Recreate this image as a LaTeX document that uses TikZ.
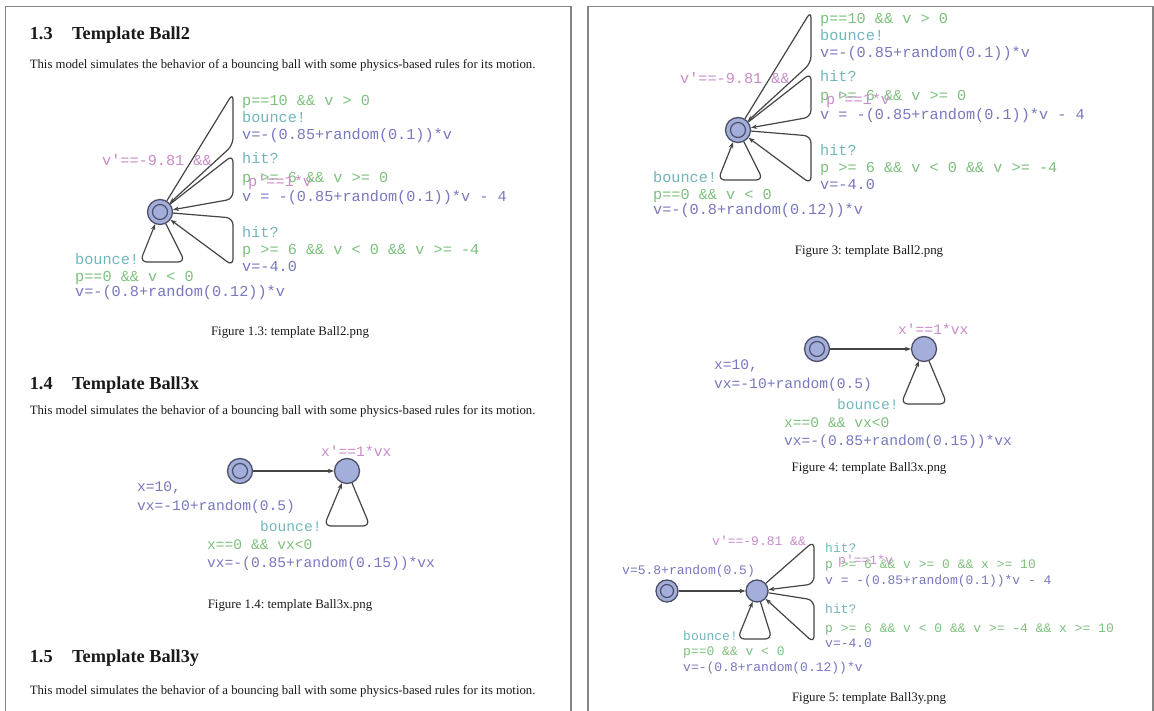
\documentclass[tikz,border=0pt]{standalone}
\usepackage{fontspec}
\setmainfont{Liberation Serif}
\setmonofont{Liberation Mono}
\usetikzlibrary{arrows.meta}
\frenchspacing
\definecolor{framec}{HTML}{858585}
\definecolor{grdc}{HTML}{7DC07D}
\definecolor{syncc}{HTML}{72B6BC}
\definecolor{updc}{HTML}{7878C0}
\definecolor{invc}{HTML}{C98CC9}
\definecolor{locfill}{HTML}{A4AEDA}
\definecolor{locdraw}{HTML}{4C5068}
\definecolor{edgec}{HTML}{454545}
\definecolor{textc}{HTML}{1A1A1A}
\tikzset{
  pageframe/.style={draw=framec, line width=1.6pt},
  heading/.style={font=\fontsize{18.3}{20}\selectfont\bfseries, anchor=base west, inner sep=0, text=textc},
  bodytext/.style={font=\fontsize{12.75}{15}\selectfont, anchor=base west, inner sep=0, text=textc},
  captiontext/.style={font=\fontsize{12.9}{15}\selectfont, anchor=base, inner sep=0, text=textc},
  monoA/.style={font=\fontsize{14.6}{16}\ttfamily, anchor=base west, inner sep=0},
  monoC/.style={font=\fontsize{15.2}{17}\ttfamily, anchor=base west, inner sep=0},
  monoB/.style={font=\fontsize{13}{15}\ttfamily, anchor=base west, inner sep=0},
  grd/.style={text=grdc}, snc/.style={text=syncc}, upd/.style={text=updc}, inv/.style={text=invc},
  loc/.style={circle, draw=locdraw, fill=locfill, line width=1.3pt, inner sep=0, minimum size=25pt},
  initring/.style={draw=locdraw, line width=1.2pt},
  edg/.style={draw=edgec, line width=1.2pt, rounded corners=7pt, -{Stealth[length=6pt,width=4.5pt]}},
  balltwo/.pic={
    \node[loc] (-n) at (0,0) {};
    \draw[initring] (-n.center) circle[radius=7.5pt];
    \draw[edg] (-n) -- (73,-119) -- (73,-67) -- (-n);
    \draw[edg] (-n) -- (73,-57) -- (73,-13) -- (-n);
    \draw[edg] (-n) -- (73,6) -- (73,54) -- (-n);
    \draw[edg] (-n) -- (25,50) -- (-20,50) -- (-n);
    \node[monoC,grd] (-g1) at (82,-106.5) {p==10 \&\& v > 0};
    \node[monoC,snc] (-s1) at (82,-89) {bounce!};
    \node[monoC,upd] (-u1) at (82,-72) {v=-(0.85+random(0.1))*v};
    \node[monoC,snc] (-s2) at (82,-48) {hit?};
    \node[monoC,grd] (-g2) at (82,-29) {p >= 6 \&\& v >= 0};
    \node[monoC,inv] (-i2) at (88,-25.5) {p'==1*v};
    \node[monoC,upd] (-u2) at (82,-10.5) {v = -(0.85+random(0.1))*v - 4};
    \node[monoC,snc] (-s3) at (82,25.5) {hit?};
    \node[monoC,grd] (-g3) at (82,43) {p >= 6 \&\& v < 0 \&\& v >= -4};
    \node[monoC,upd] (-u3) at (82,59.8) {v=-4.0};
    \node[monoC,snc] (-s4) at (-85,52.5) {bounce!};
    \node[monoC,grd] (-g4) at (-85,69.5) {p==0 \&\& v < 0};
    \node[monoC,upd] (-u4) at (-85,85) {v=-(0.8+random(0.12))*v};
    \node[monoC,inv] (-i1) at (-58,-46) {v'==-9.81 \&\&};
  },
  ballthreex/.pic={
    \node[loc] (-i) at (0,0) {};
    \draw[initring] (-i.center) circle[radius=7.5pt];
    \node[loc] (-m) at (107,0) {};
    \draw[edg] (-i) -- (-m);
    \draw[edg] (-m) -- (130,55) -- (84,55) -- (-m);
    \node[monoA,inv] (-l1) at (81,-14.5) {x'==1*vx};
    \node[monoA,upd] (-l2) at (-103,20.5) {x=10,};
    \node[monoA,upd] (-l3) at (-103,39.5) {vx=-10+random(0.5)};
    \node[monoA,snc] (-l4) at (20,60.5) {bounce!};
    \node[monoA,grd] (-l5) at (-33,78.5) {x==0 \&\& vx<0};
    \node[monoA,upd] (-l6) at (-33,96.5) {vx=-(0.85+random(0.15))*vx};
  }
}
\begin{document}
\begin{tikzpicture}[x=1pt,y=-1pt]
\useasboundingbox (0,0) rectangle (1154,711);
\fill[white] (0,0) rectangle (1154,711);
% page frames
\draw[pageframe] (5.5,712) -- (5.5,6.5) -- (571,6.5) -- (571,712);
\draw[pageframe] (588,712) -- (588,6.5) -- (1153,6.5) -- (1153,712);

% ---------- left page ----------
\node[heading] (h13n) at (29.6,39.5) {1.3};
\node[heading] (h13t) at (72,39.5) {Template Ball2};
\node[bodytext] (b13) at (29.6,69) {This model simulates the behavior of a bouncing ball with some physics-based rules for its motion.};
\pic (LB2) at (160,212) {balltwo};
\node[captiontext] (c13) at (290,336) {Figure 1.3: template Ball2.png};

\node[heading] (h14n) at (29.6,389.5) {1.4};
\node[heading] (h14t) at (72,389.5) {Template Ball3x};
\node[bodytext] (b14) at (29.6,414) {This model simulates the behavior of a bouncing ball with some physics-based rules for its motion.};
\pic (LB3) at (240,471) {ballthreex};
\node[captiontext] (c14) at (290,608) {Figure 1.4: template Ball3x.png};

\node[heading] (h15n) at (29.6,662.5) {1.5};
\node[heading] (h15t) at (72,662.5) {Template Ball3y};
\node[bodytext] (b15) at (29.6,694) {This model simulates the behavior of a bouncing ball with some physics-based rules for its motion.};

% ---------- right page ----------
\pic (RB2) at (738,130) {balltwo};
\node[captiontext] (c3) at (869,255) {Figure 3: template Ball2.png};

\pic (RB3) at (817,349) {ballthreex};
\node[captiontext] (c4) at (869,471) {Figure 4: template Ball3x.png};

% Ball3y
\node[loc, minimum size=22pt] (yi) at (667,591) {};
\draw[initring] (yi.center) circle[radius=6.5pt];
\node[loc, minimum size=22pt] (ym) at (757,591) {};
\draw[edg] (yi) -- (ym);
\draw[edg] (ym) -- (814,541) -- (814,584) -- (ym);
\draw[edg] (ym) -- (814,600) -- (814,643) -- (ym);
\draw[edg] (ym) -- (772,639) -- (737.5,639) -- (ym);
\node[monoB,upd] (y1) at (622,574) {v=5.8+random(0.5)};
\node[monoB,inv] (y2) at (712,545) {v'==-9.81 \&\&};
\node[monoB,snc] (y3) at (825,552) {hit?};
\node[monoB,grd] (y4) at (825,568) {p >= 6 \&\& v >= 0 \&\& x >= 10};
\node[monoB,inv] (y5) at (838,564) {p'==1*v};
\node[monoB,upd] (y6) at (825,584) {v = -(0.85+random(0.1))*v - 4};
\node[monoB,snc] (y7) at (825,613) {hit?};
\node[monoB,grd] (y8) at (825,632) {p >= 6 \&\& v < 0 \&\& v >= -4 \&\& x >= 10};
\node[monoB,upd] (y9) at (825,647) {v=-4.0};
\node[monoB,snc] (y10) at (683,640) {bounce!};
\node[monoB,grd] (y11) at (683,655) {p==0 \&\& v < 0};
\node[monoB,upd] (y12) at (683,671) {v=-(0.8+random(0.12))*v};
\node[captiontext] (c5) at (869,701) {Figure 5: template Ball3y.png};
\end{tikzpicture}
\end{document}
